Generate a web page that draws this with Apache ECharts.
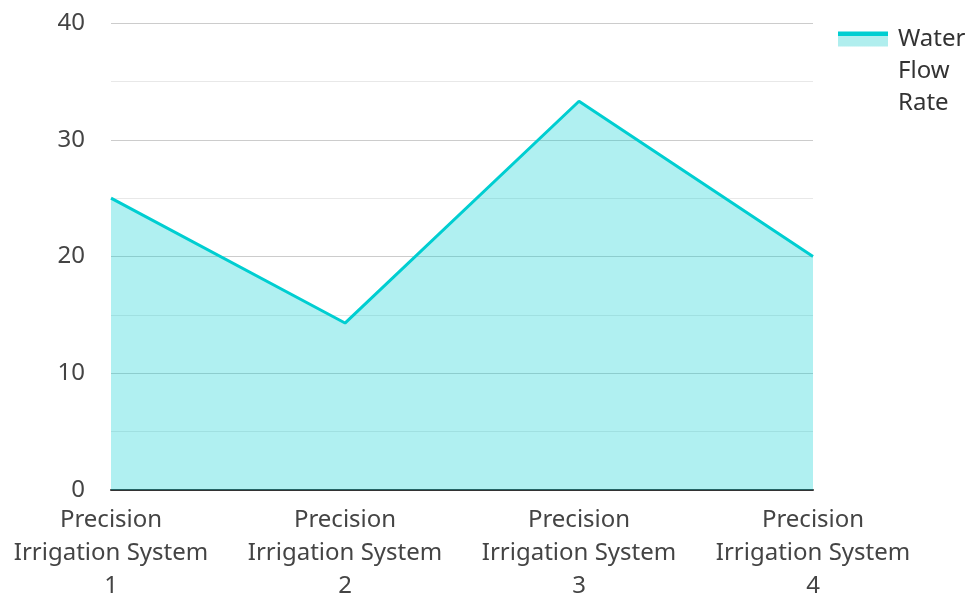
<!DOCTYPE html>
<html><head><meta charset="utf-8">
<script src="https://cdn.jsdelivr.net/npm/echarts@6/dist/echarts.min.js"></script>
<style>html,body{margin:0;padding:0;background:#fff}#c{width:968px;height:594px}</style>
</head><body><div id="c"></div>
<script>
var categories = ["Precision Irrigation System 1","Precision Irrigation System 2","Precision Irrigation System 3","Precision Irrigation System 4"];
var waterFlowRate = [25, 14.3, 33.3, 20];
var seriesName = "Water Flow Rate";
var yTicks = [0, 10, 20, 30, 40];

var chart = echarts.init(document.getElementById('c'));
var font = "'Noto Sans', sans-serif";
chart.setOption({
  animation: false,
  textStyle: {fontFamily: font},
  grid: {left: 111, right: 155, top: 23, bottom: 104, containLabel: false, outerBoundsMode: 'none'},
  legend: {
    orient: 'vertical', left: 838, top: -44, padding: 0,
    itemWidth: 50, itemHeight: 15, itemGap: 5,
    data: [{name: seriesName, icon: 'rect'}],
    formatter: function (n) { return '\n\n' + n.replace(/ /g, '\n'); },
    itemStyle: {
      color: new echarts.graphic.LinearGradient(0, 0, 0, 1, [
        {offset: 0, color: '#00CED1'}, {offset: 0.27, color: '#00CED1'},
        {offset: 0.27, color: '#b0eeee'}, {offset: 1, color: '#b0eeee'}])
    },
    textStyle: {fontFamily: font, fontSize: 24, color: '#333', lineHeight: 32, padding: [0, 0, 6, 5]}
  },
  xAxis: {
    type: 'category', data: categories, boundaryGap: false,
    axisLine: {lineStyle: {color: '#333', width: 2}},
    axisTick: {show: false},
    axisLabel: {fontFamily: font, fontSize: 24, color: '#444', lineHeight: 33, margin: 14,
      interval: 0,
      formatter: function (v) { return v.replace(' Irrigation', '\nIrrigation').replace(/ (\d+)$/, '\n$1'); }},
    splitLine: {show: false}
  },
  yAxis: {
    type: 'value', min: yTicks[0], max: yTicks[yTicks.length - 1], interval: 10,
    axisLine: {show: false}, axisTick: {show: false},
    axisLabel: {fontFamily: font, fontSize: 24, color: '#444', margin: 26},
    splitLine: {lineStyle: {color: '#cccccc', width: 1}},
    minorTick: {show: false, splitNumber: 2},
    minorSplitLine: {show: true, lineStyle: {color: '#e8e8e8', width: 1}}
  },
  series: [{
    name: seriesName, type: 'line', data: waterFlowRate,
    symbol: 'none', showSymbol: false,
    lineStyle: {color: '#00CED1', width: 3},
    itemStyle: {color: '#00CED1'},
    areaStyle: {color: '#00CED1', opacity: 0.31, origin: 'start'}
  }]
});
</script></body></html>
